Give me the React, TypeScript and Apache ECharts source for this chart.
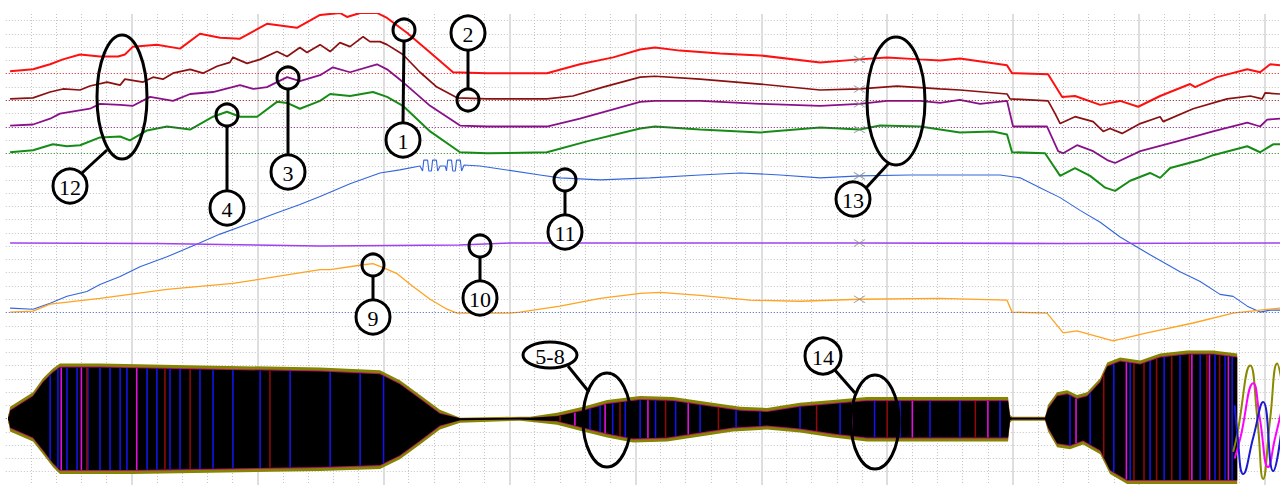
import React, { useEffect, useRef } from 'react';
import * as echarts from 'echarts';

// time axis: 10 units per minor division, 50 per major; value axis: 1 unit per division
const redTrace = [[1.7,30.19],[10.8,30.33],[17.6,30.71],[22.7,31.08],[29.5,31.45],[37.4,31.30],[44.6,31.30],[47.3,31.45],[50.5,32.04],[60.0,32.19],[69.2,31.89],[77.1,33.01],[85.1,32.71],[93.0,32.64],[103.7,33.76],[115.6,33.46],[124.8,34.43],[132.7,34.58],[135.5,34.28],[140.7,34.58],[147.4,34.58],[151.4,34.20],[159.3,33.09],[168.5,31.60],[177.6,30.11],[191.1,30.04],[214.9,30.04],[228.0,30.71],[241.2,31.23],[251.9,31.82],[257.8,31.97],[267.7,31.74],[283.6,31.52],[299.5,31.38],[323.4,30.85],[339.0,31.08],[349.9,31.23],[363.1,31.08],[371.0,31.00],[378.9,31.15],[397.6,30.63],[399.6,30.04],[413.9,29.96],[419.5,28.25],[424.6,28.32],[434.6,27.65],[442.5,27.95],[449.7,27.51],[458.4,28.32],[470.3,29.22],[472.3,28.99],[481.0,29.74],[493.0,30.33],[498.1,30.11],[502.1,30.71],[506.0,30.63]];
const darkRedTrace = [[1.7,28.10],[10.8,28.18],[17.6,28.62],[22.7,28.85],[29.5,28.77],[33.4,29.07],[40.2,29.37],[45.4,29.14],[47.3,29.59],[54.5,29.37],[58.5,29.74],[62.4,29.59],[66.4,30.04],[73.2,30.33],[78.3,30.04],[83.9,30.56],[89.0,30.85],[90.2,31.23],[95.8,30.78],[101.0,31.08],[107.7,31.67],[111.7,31.30],[116.8,31.97],[119.6,31.60],[124.8,32.19],[128.8,31.67],[132.7,32.34],[136.7,32.04],[141.9,32.79],[144.6,32.42],[148.6,32.42],[151.4,32.19],[157.7,31.45],[164.5,30.11],[171.2,28.99],[179.2,28.18],[191.1,28.10],[214.9,28.10],[225.2,28.32],[237.2,28.99],[251.9,29.74],[257.8,29.81],[275.7,29.59],[299.5,29.22],[323.4,28.77],[339.2,28.85],[353.9,29.07],[371.0,28.85],[378.9,28.77],[397.6,28.47],[398.8,28.10],[413.9,27.95],[416.7,26.99],[418.7,26.24],[424.6,26.76],[431.8,26.39],[435.8,25.65],[438.5,25.87],[443.3,25.50],[450.5,26.24],[458.4,26.76],[459.6,26.39],[471.5,27.36],[485.0,28.10],[494.2,28.32],[498.9,28.10],[500.1,28.55],[506.0,28.47]];
const purpleTrace = [[1.7,26.09],[10.8,26.17],[17.6,26.61],[21.5,26.99],[33.4,27.36],[37.4,27.73],[45.4,27.65],[50.5,27.58],[57.3,28.25],[66.4,27.95],[73.2,28.47],[82.3,28.62],[93.0,29.14],[98.2,28.85],[103.7,28.99],[111.7,29.74],[116.8,29.44],[124.8,29.89],[129.9,30.48],[136.7,30.11],[147.4,30.71],[151.4,30.33],[157.7,29.37],[168.5,27.58],[180.4,26.09],[191.1,26.02],[214.9,26.02],[228.0,26.61],[251.9,27.88],[257.8,27.95],[275.7,27.95],[299.5,27.73],[323.4,27.58],[339.2,27.73],[349.9,27.95],[363.1,27.95],[371.0,27.80],[378.9,28.03],[386.9,27.73],[397.6,27.95],[400.0,26.02],[413.5,26.02],[417.9,24.16],[419.9,24.00],[425.4,24.61],[431.8,24.16],[437.4,23.49],[440.5,23.27],[450.5,24.16],[465.1,24.90],[479.4,25.65],[493.0,26.32],[498.1,26.02],[500.9,26.54],[506.0,26.61]];
const greenTrace = [[1.7,24.08],[10.8,24.23],[18.7,24.68],[24.3,24.53],[29.5,24.61],[37.4,25.20],[45.4,25.27],[49.3,24.98],[56.1,25.72],[64.0,26.02],[73.2,25.79],[82.3,26.76],[87.8,27.13],[93.0,26.76],[99.8,26.76],[107.7,27.88],[111.7,27.80],[116.8,27.36],[124.8,27.95],[128.8,28.47],[136.7,28.32],[145.8,28.62],[151.4,28.25],[157.7,27.58],[168.5,25.65],[180.4,24.08],[191.1,24.00],[214.9,24.08],[230.8,24.90],[251.9,25.87],[257.8,26.02],[275.7,25.79],[299.5,25.57],[323.4,25.94],[339.0,25.79],[347.2,26.09],[363.1,26.02],[378.9,25.57],[392.0,25.65],[397.6,25.42],[399.6,24.08],[412.7,24.00],[418.7,22.30],[424.6,22.89],[430.6,22.30],[436.6,21.41],[440.5,21.17],[446.5,21.93],[454.4,22.52],[458.4,22.15],[462.4,22.89],[474.3,23.49],[479.4,23.86],[493.0,24.53],[498.1,24.08],[503.3,24.68],[506.0,24.68]];
const blueTrace = [[1.7,12.33],[10.8,12.25],[17.6,12.70],[24.3,13.22],[32.2,13.59],[37.4,14.11],[45.4,14.71],[53.3,15.45],[64.0,16.20],[76.0,17.16],[85.1,17.91],[95.8,18.65],[106.1,19.40],[116.8,20.14],[124.8,20.74],[136.7,21.70],[148.6,22.52],[156.5,22.75],[164.5,23.04],[165.5,22.67],[166.0,23.49],[167.5,23.49],[168.0,22.67],[169.0,22.67],[169.5,23.49],[171.0,23.49],[171.5,22.67],[172.5,23.04],[174.5,23.04],[175.0,22.67],[175.5,23.49],[177.0,23.49],[177.5,22.67],[178.5,22.67],[179.0,23.49],[180.5,23.49],[181.0,22.67],[182.0,23.12],[188.3,23.04],[196.3,22.82],[212.1,22.37],[220.1,22.15],[236.0,22.00],[255.8,22.15],[275.7,22.37],[291.6,22.52],[307.5,22.37],[323.4,22.15],[339.2,22.30],[359.1,22.37],[378.9,22.37],[394.8,22.37],[402.8,22.15],[410.7,21.41],[418.7,20.66],[426.6,19.70],[434.6,18.80],[442.5,17.69],[454.4,16.35],[466.3,15.08],[474.3,14.34],[482.2,13.37],[487.4,13.22],[493.0,12.48],[498.1,12.03],[502.1,12.18],[506.0,12.18]];
const violetTrace = [[1.7,17.24],[60.0,17.20],[124.8,17.01],[180.0,17.09],[200.2,17.24],[339.2,17.24],[420.0,17.20],[506.0,17.24]];
const orangeTrace = [[1.7,12.03],[10.8,12.10],[17.6,12.63],[37.4,13.07],[64.0,13.74],[90.2,14.19],[124.8,15.23],[128.8,15.23],[141.9,15.60],[145.8,15.68],[149.8,15.38],[155.4,14.93],[161.7,13.96],[168.5,13.00],[175.2,12.25],[179.2,11.96],[200.2,11.96],[204.2,12.03],[220.1,12.48],[236.0,13.07],[251.9,13.45],[259.8,13.52],[275.7,13.30],[295.6,12.93],[315.4,12.85],[339.2,13.00],[371.0,13.07],[397.6,12.93],[399.6,12.03],[413.5,11.96],[419.9,10.47],[425.4,10.62],[439.7,9.87],[453.2,10.47],[471.5,11.21],[487.4,11.96],[498.1,12.18],[506.0,12.33]];

// oscillation band envelope (upper and lower bound)
const bandUpper = [[0.9,4.30],[1.3,4.44],[1.7,4.89],[10.8,6.00],[14.8,7.05],[18.7,7.79],[21.5,8.16],[37.4,8.16],[77.1,8.01],[124.8,7.86],[148.6,7.64],[156.5,6.90],[164.5,5.78],[172.4,4.67],[180.4,4.07],[204.2,4.15],[208.2,4.15],[218.9,4.44],[229.2,4.89],[238.8,5.41],[251.9,5.71],[264.9,5.63],[278.5,5.26],[291.6,4.89],[302.3,4.81],[315.4,5.19],[328.5,5.41],[342.0,5.63],[355.1,5.63],[398.0,5.63],[398.8,4.29],[399.6,4.15],[412.7,4.15],[413.9,5.04],[417.5,6.00],[421.5,6.15],[425.4,5.78],[429.4,6.00],[434.6,7.05],[437.4,8.24],[442.5,8.61],[450.5,8.39],[458.4,8.91],[469.1,9.13],[479.4,9.13],[489.0,8.91]];
const bandLower = [[0.9,3.70],[1.3,3.55],[1.7,3.03],[10.8,2.28],[14.8,1.32],[18.7,0.35],[21.5,-0.17],[50.5,-0.17],[124.8,0.05],[148.6,0.20],[156.5,0.94],[164.5,2.06],[172.4,3.18],[180.4,3.70],[204.2,3.85],[208.2,3.77],[218.9,3.55],[229.2,3.03],[238.8,2.58],[249.1,2.21],[262.6,2.28],[275.7,2.66],[288.8,3.03],[302.3,3.18],[315.4,2.95],[328.5,2.58],[342.0,2.28],[355.1,2.28],[398.0,2.28],[398.8,3.70],[399.6,3.85],[412.7,3.85],[413.9,3.03],[417.5,1.84],[422.6,1.69],[427.8,2.06],[434.6,1.32],[438.5,-0.17],[445.3,-0.92],[489.0,-0.92]];
// positions of coloured strokes visible inside the band
const stripeBlue = [17.6,20.7,24.3,28.3,32.6,37.4,41.4,45.4,48.1,56.1,60.0,65.2,69.2,77.1,82.3,90.2,101.0,112.9,128.8,140.7,150.0,232.0,236.0,241.0,246.0,251.9,258.0,266.0,275.7,290.0,299.5,315.4,331.3,345.0,355.1,367.0,378.9,394.8,422.6,430.6,440.0,446.5,454.4,460.0,466.3,474.3,480.2,484.2,487.0];
const stripeDarkRed = [32.2,63.2,73.2,104.9,220.1,243.9,262.0,283.0,322.0,350.0,385.0,436.0,448.0,452.0,457.0,463.0,470.0,477.0,482.0];
const stripeMagenta = [22.0,30.0,52.0,226.0,238.0,255.0,271.0,336.0,360.0,390.0,425.0,445.0,471.0,478.0,485.5];
const oliveWave = [[487.4,1.5],[489.0,2.8],[494.2,8.01],[497.0,4.0],[499.3,-0.54],[502.1,4.0],[504.9,8.16],[506.5,7.0]];
const magentaWave = [[488.0,1.0],[490.2,2.5],[495.4,6.67],[498.0,4.0],[501.3,0.35],[504.0,2.5],[506.5,4.5]];
const blueWave = [[488.0,5.0],[489.0,3.0],[491.4,-0.17],[495.4,2.6],[499.3,5.26],[503.3,0.05],[506.5,3.0]];

const bases = { red: 30, darkRed: 28, purple: 26, green: 24, blue: 12, band: 4 };
const cursorT = 339;
const cursorValues = [31.08, 28.85, 27.73, 25.79, 22.30, 17.24, 13.00];

const SERIF = '"Liberation Serif", "DejaVu Serif", serif';

function trace(name: string, data: number[][], color: string, width: number, base?: number) {
  const s: any = {
    name, type: 'line', data, symbol: 'none', z: 4, silent: true,
    lineStyle: { color, width }, itemStyle: { color },
  };
  if (base !== undefined) {
    s.markLine = {
      silent: true, symbol: ['none', 'none'], label: { show: false },
      lineStyle: { color, width: 1, type: [1, 2], opacity: 0.9 },
      data: [{ yAxis: base }],
    };
  }
  return s;
}

function insetPoint(q: number[], c: number, px: number) {
  const d = q[1] - c;
  const s = Math.min(px, Math.abs(d) * 0.6);
  return [q[0], q[1] - Math.sign(d) * s];
}

function band(fill: string, px: number, z: number) {
  return {
    type: 'custom', silent: true, z, clip: true,
    data: [[bandUpper[0][0], bandUpper[0][1]]],
    encode: { x: 0, y: 1 },
    renderItem: (params: any, api: any) => {
      const c = api.coord([0, bases.band])[1];
      const up = bandUpper.map((p) => insetPoint(api.coord(p), c, px));
      const lo = bandLower.slice().reverse().map((p) => insetPoint(api.coord(p), c, px));
      return { type: 'polygon', shape: { points: up.concat(lo) }, style: { fill } };
    },
  };
}

function envAt(env: number[][], t: number) {
  for (let i = 1; i < env.length; i++) {
    if (env[i][0] >= t) {
      const a = env[i - 1], b = env[i];
      const f = (t - a[0]) / (b[0] - a[0] || 1);
      return a[1] + (b[1] - a[1]) * f;
    }
  }
  return env[env.length - 1][1];
}

function stripes(list: number[], color: string, width: number) {
  return {
    type: 'custom', silent: true, z: 2, clip: true,
    data: list.map((t) => [t, bases.band]),
    encode: { x: 0, y: 1 },
    renderItem: (params: any, api: any) => {
      const t = api.value(0);
      const c = api.coord([0, bases.band])[1];
      const top = insetPoint(api.coord([t, envAt(bandUpper, t)]), c, 4);
      const bot = insetPoint(api.coord([t, envAt(bandLower, t)]), c, 4);
      return { type: 'line', shape: { x1: top[0], y1: top[1], x2: bot[0], y2: bot[1] }, style: { stroke: color, lineWidth: width } };
    },
  };
}

function buildGraphic() {
  const g: any[] = [];
  const stroke = { stroke: '#000', lineWidth: 3 };
  const txt = (x: number, y: number, text: string) => ({
    type: 'text', x, y, z: 102,
    style: { text, font: `22px ${SERIF}`, fill: '#000', align: 'center', verticalAlign: 'middle', textAlign: 'center', textVerticalAlign: 'middle' },
  });
  const bigCircle = (cx: number, cy: number, r: number, label: string) => {
    g.push({ type: 'circle', z: 101, shape: { cx, cy, r }, style: { fill: '#fff', ...stroke } });
    g.push(txt(cx, cy + 1, label));
  };
  const pin = (label: string, bx: number, by: number, sx: number, sy: number) => {
    const dir = sy > by ? 1 : -1;
    g.push({ type: 'line', z: 100, shape: { x1: bx, y1: by + dir * 17, x2: sx, y2: sy - dir * 11 }, style: stroke });
    g.push({ type: 'circle', z: 100, shape: { cx: sx, cy: sy, r: 11 }, style: { fill: 'none', ...stroke } });
    bigCircle(bx, by, 17, label);
  };
  pin('1', 403, 140, 404, 30);
  pin('2', 468, 33, 468, 100);
  pin('3', 288, 172, 288, 78);
  pin('4', 227, 208, 227, 115);
  pin('9', 373, 317, 373, 265);
  pin('10', 480, 298, 480, 246);
  pin('11', 565, 232, 565, 180);
  const ell = (cx: number, cy: number, rx: number, ry: number, fill = 'none') =>
    g.push({ type: 'ellipse', z: 100, shape: { cx, cy, rx, ry }, style: { fill, ...stroke } });
  const seg = (x1: number, y1: number, x2: number, y2: number) =>
    g.push({ type: 'line', z: 100, shape: { x1, y1, x2, y2 }, style: stroke });
  ell(122, 97, 25, 62);
  seg(107, 150, 82, 173);
  bigCircle(70, 186, 17, '12');
  ell(896, 101, 29, 64);
  seg(889, 163, 866, 188);
  bigCircle(853, 199, 17, '13');
  ell(607, 420, 24, 47);
  seg(568, 366, 589, 392);
  ell(550, 355, 27, 13, '#fff');
  g.push(txt(550, 356, '5-8'));
  ell(875, 422, 24, 47);
  seg(834, 369, 855, 393);
  bigCircle(823, 356, 18, '14');
  return g;
}

export default function App() {
  const ref = useRef<HTMLDivElement>(null);
  useEffect(() => {
    const chart = echarts.init(ref.current!, null, { renderer: 'svg' });
    const gridLine = { color: '#c4c4c4', width: 1, type: [1, 2] };
    chart.setOption({
      animation: false,
      backgroundColor: '#ffffff',
      grid: { left: 5.8, top: 14, width: 1274.2, height: 477.1, containLabel: false },
      xAxis: {
        type: 'value', min: 0, max: 506, interval: 50,
        axisLine: { show: false }, axisTick: { show: false }, axisLabel: { show: false },
        splitLine: { show: true, showMinLine: false, showMaxLine: false, lineStyle: { color: '#dedede', width: 2 } },
        minorTick: { show: false, splitNumber: 5 },
        minorSplitLine: { show: true, lineStyle: gridLine },
      },
      yAxis: {
        type: 'value', min: -1, max: 34.5, interval: 1,
        axisLine: { show: false }, axisTick: { show: false }, axisLabel: { show: false },
        splitLine: { show: true, showMinLine: false, showMaxLine: false, lineStyle: gridLine },
      },
      series: [
        { type: 'line', data: [[0, bases.band], [506, bases.band]], symbol: 'none', silent: true, z: 1,
          lineStyle: { color: '#808000', width: 1, type: [1, 2] } },
        band('#858500', 0, 2),
        band('#b0106a', 3, 2),
        band('#000000', 4, 2),
        stripes(stripeBlue, '#1414e6', 1.6),
        stripes(stripeDarkRed, '#8b0a0a', 1.6),
        stripes(stripeMagenta, '#e010e0', 1.6),
        { type: 'line', data: oliveWave, smooth: true, symbol: 'none', silent: true, z: 3, lineStyle: { color: '#8a8a00', width: 2 } },
        { type: 'line', data: magentaWave, smooth: true, symbol: 'none', silent: true, z: 3, lineStyle: { color: '#ff00ff', width: 2 } },
        { type: 'line', data: blueWave, smooth: true, symbol: 'none', silent: true, z: 3, lineStyle: { color: '#1a1ad0', width: 2 } },
        trace('red', redTrace, '#ff1010', 2, bases.red),
        trace('darkred', darkRedTrace, '#8b1010', 1.7, bases.darkRed),
        trace('purple', purpleTrace, '#8a108a', 1.8, bases.purple),
        trace('green', greenTrace, '#168c16', 2, bases.green),
        trace('blue', blueTrace, '#3366dd', 1.1, bases.blue),
        trace('violet', violetTrace, '#a040f5', 1.6),
        trace('orange', orangeTrace, '#ffa320', 1.3),
        {
          type: 'scatter', silent: true, z: 5,
          data: cursorValues.map((v) => [cursorT, v]),
          symbol: 'path://M0,0L10,7M0,7L10,0', symbolSize: [11, 7],
          itemStyle: { color: 'none', borderColor: '#8a8a8a', borderWidth: 1 },
        },
      ],
      graphic: buildGraphic(),
    });
    return () => chart.dispose();
  }, []);
  return <div ref={ref} style={{ position: 'fixed', left: 0, top: 0, width: 1280, height: 485, background: '#fff' }} />;
}
